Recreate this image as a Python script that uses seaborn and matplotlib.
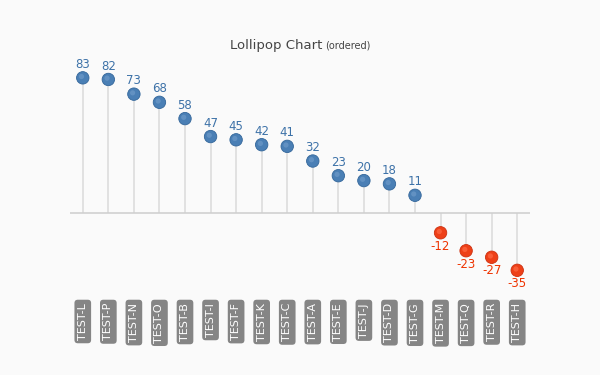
import matplotlib
matplotlib.use("Agg")
import matplotlib.pyplot as plt
import seaborn as sns
import pandas as pd

categories = ["TEST-L", "TEST-P", "TEST-N", "TEST-O", "TEST-B", "TEST-I", "TEST-F", "TEST-K", "TEST-C",
              "TEST-A", "TEST-E", "TEST-J", "TEST-D", "TEST-G", "TEST-M", "TEST-Q", "TEST-R", "TEST-H"]
values = [83, 82, 73, 68, 58, 47, 45, 42, 41, 32, 23, 20, 18, 11, -12, -23, -27, -35]

df = pd.DataFrame({"cat": categories, "val": values})
df["x"] = range(len(df))
df["sign"] = ["pos" if v >= 0 else "neg" for v in values]

sns.set_theme(style="white")
plt.rcParams["font.family"] = ["DejaVu Sans"]

fig = plt.figure(figsize=(6, 3.75), dpi=100, facecolor="#fafafa")
ax = fig.add_axes([70 / 600, 1 - 285 / 375, 460 / 600, 230 / 375])
ax.set_facecolor("#fafafa")

ax.vlines(df["x"], 0, df["val"], color="#dddddd", lw=1.2, zorder=1)
ax.axhline(0, color="#d0d0d0", lw=1.2, zorder=1)

palette = {"pos": "#4a7fb5", "neg": "#ee4018"}
edge = {"pos": "#33669a", "neg": "#cc3010"}
sns.scatterplot(data=df, x="x", y="val", hue="sign", palette=palette, s=80,
                edgecolor=[edge[s] for s in df["sign"]], linewidth=0.6, legend=False, ax=ax, zorder=3)
# subtle highlight
hl = {"pos": "#6d9ac8", "neg": "#ff6a45"}
ax.scatter(df["x"] - 0.05, df["val"] + 0.8, s=14, c=[hl[s] for s in df["sign"]],
           linewidths=0, zorder=4, alpha=0.7)

for x, v in zip(df["x"], df["val"]):
    if v >= 0:
        ax.annotate(str(v), (x, v), xytext=(0, 5), textcoords="offset points",
                    ha="center", va="bottom", fontsize=8.5, color="#3d72a8")
    else:
        ax.annotate(str(v), (x, v), xytext=(0, -5), textcoords="offset points",
                    ha="center", va="top", fontsize=8.5, color="#ee3300")

ax.set_xlim(-0.5, 17.5)
ax.set_ylim(-44, 97)
ax.set_xticks(df["x"])
ax.set_xticklabels(df["cat"], rotation=90, fontsize=8, color="white")
ax.tick_params(axis="x", length=0, pad=13)
for lbl in ax.get_xticklabels():
    lbl.set_va("top")
    lbl.set_bbox(dict(boxstyle="round,pad=0.3,rounding_size=0.3", facecolor="#858585", edgecolor="none"))
ax.set_yticks([])
ax.set_xlabel("")
ax.set_ylabel("")
for sp in ax.spines.values():
    sp.set_visible(False)

fig.text(230 / 600, 1 - 45 / 375, "Lollipop Chart", fontsize=9.5, color="#444444", ha="left", va="center")
fig.text(325 / 600, 1 - 46 / 375, "(ordered)", fontsize=7, color="#444444", ha="left", va="center")

fig.savefig("out.png", dpi=100, facecolor=fig.get_facecolor())
